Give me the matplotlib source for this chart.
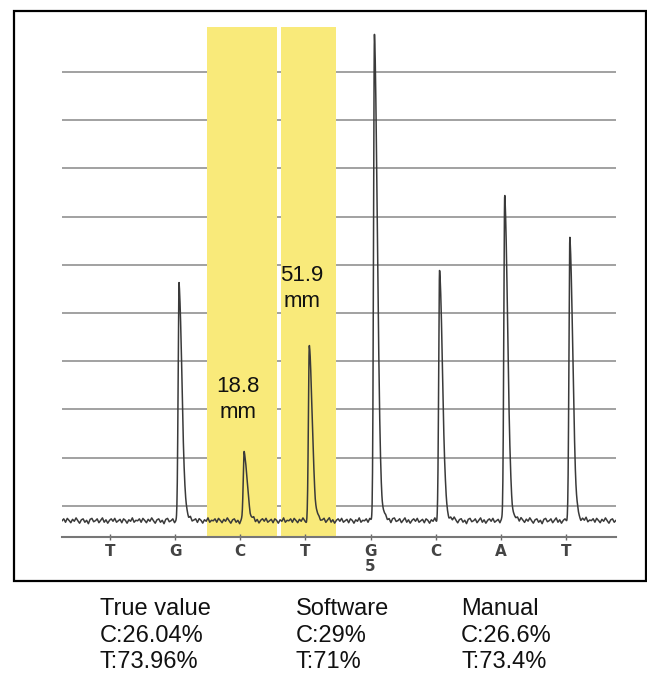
import numpy as np
import matplotlib
matplotlib.use("Agg")
from matplotlib import pyplot as plt
from matplotlib.patches import Rectangle

# bases called along the trace, and peak heights above baseline (grid units)
bases = ["T", "G", "C", "T", "G\n5", "C", "A", "T"]
peak_heights = [0.0, 4.93, 1.43, 3.61, 10.08, 5.20, 6.80, 5.89]
baseline = 0.33

# highlighted C and T positions
hl_spans = [(1.49, 2.56), (2.62, 3.47)]
notes = ["18.8\nmm", "51.9\nmm"]
note_pos = [(1.97, 2.84), (2.95, 5.15)]

# results printed below the chart
groups = ["True value", "Software", "Manual"]
c_vals = ["C:26.04%", "C:29%", "C:26.6%"]
t_vals = ["T:73.96%", "T:71%", "T:73.4%"]

# hand drawn baseline wiggle (texture only)
wiggle = [0.00, 0.04, -0.03, 0.05, 0.01, -0.04, 0.03, -0.01, 0.06, 0.00,
          -0.05, 0.02, 0.04, -0.03, 0.01, -0.06, 0.03, 0.05, -0.02, 0.00,
          0.04, -0.04, 0.01, 0.06, -0.03, 0.02, -0.05, 0.01, 0.04, -0.01,
          0.05, -0.03, 0.00, 0.03, -0.04, 0.04, 0.01, -0.05, 0.02, -0.01,
          0.06, -0.03, 0.01]

W, H = 647, 676
fig = plt.figure(figsize=(W / 100, H / 100), dpi=100)
plt.rcParams['font.family'] = ['Liberation Sans', 'DejaVu Sans']

x0, x1 = -0.737, 7.768
ax = fig.add_axes([62 / W, (H - 536.7) / H, (616 - 62) / W, (536.7 - 27) / H])
ax.set_xlim(x0, x1)
ax.set_ylim(0, 10.57)

# grid lines
for k in range(10):
    ax.axhline(0.64 + k, color="#9a9a9a", lw=1.3, zorder=0)

for a, b in hl_spans:
    ax.axvspan(a, b, color="#f9ea7a", lw=0, zorder=1)

# trace
xs = np.arange(x0, x1, 0.003)
wx = np.arange(x0, x1 + 0.03, 0.027)
wy = np.resize(wiggle, len(wx))
ys = baseline + np.interp(xs, wx, wy)
for i, h in enumerate(peak_heights):
    c = i + 0.06
    d = xs - c
    left = np.exp(-0.5 * (d / 0.014) ** 2)
    right = 0.85 * np.exp(-0.5 * (d / 0.045) ** 2) + 0.15 * np.exp(-np.clip(d, 0, None) / 0.06)
    ys = ys + h * np.where(d < 0, left, right)
ax.plot(xs, ys, color="#3a3a3a", lw=1.1, zorder=3)

for (tx, ty), s in zip(note_pos, notes):
    ax.text(tx, ty, s, ha="center", va="center", fontsize=16,
            linespacing=1.3, color="#111111", zorder=4)

ax.set_xticks(range(len(bases)))
ax.set_xticklabels(bases, fontsize=11, fontweight="bold", color="#444444",
                   family="DejaVu Sans", linespacing=1.0)
ax.tick_params(axis="x", direction="inout", length=5, width=1, color="#666666", pad=2.5)
ax.set_yticks([])
for side in ["top", "left", "right"]:
    ax.spines[side].set_visible(False)
ax.spines["bottom"].set_color("#777777")
ax.spines["bottom"].set_linewidth(1.5)
ax.patch.set_alpha(0)

# frame round the chart
fig.add_artist(Rectangle((13.5 / W, (H - 580.5) / H), (646 - 13.5) / W, (580.5 - 11) / H,
                         transform=fig.transFigure, fill=False, ec="black", lw=1.6))

# results text
lefts = [100, 296, 461]
for lx, g, cv, tv in zip(lefts, groups, c_vals, t_vals):
    for ly, s in zip([609, 636, 662], [g, cv, tv]):
        fig.text(lx / W, (H - ly) / H, s, ha="left", va="center", fontsize=17, color="#111111")

fig.savefig("out.png", dpi=100)
